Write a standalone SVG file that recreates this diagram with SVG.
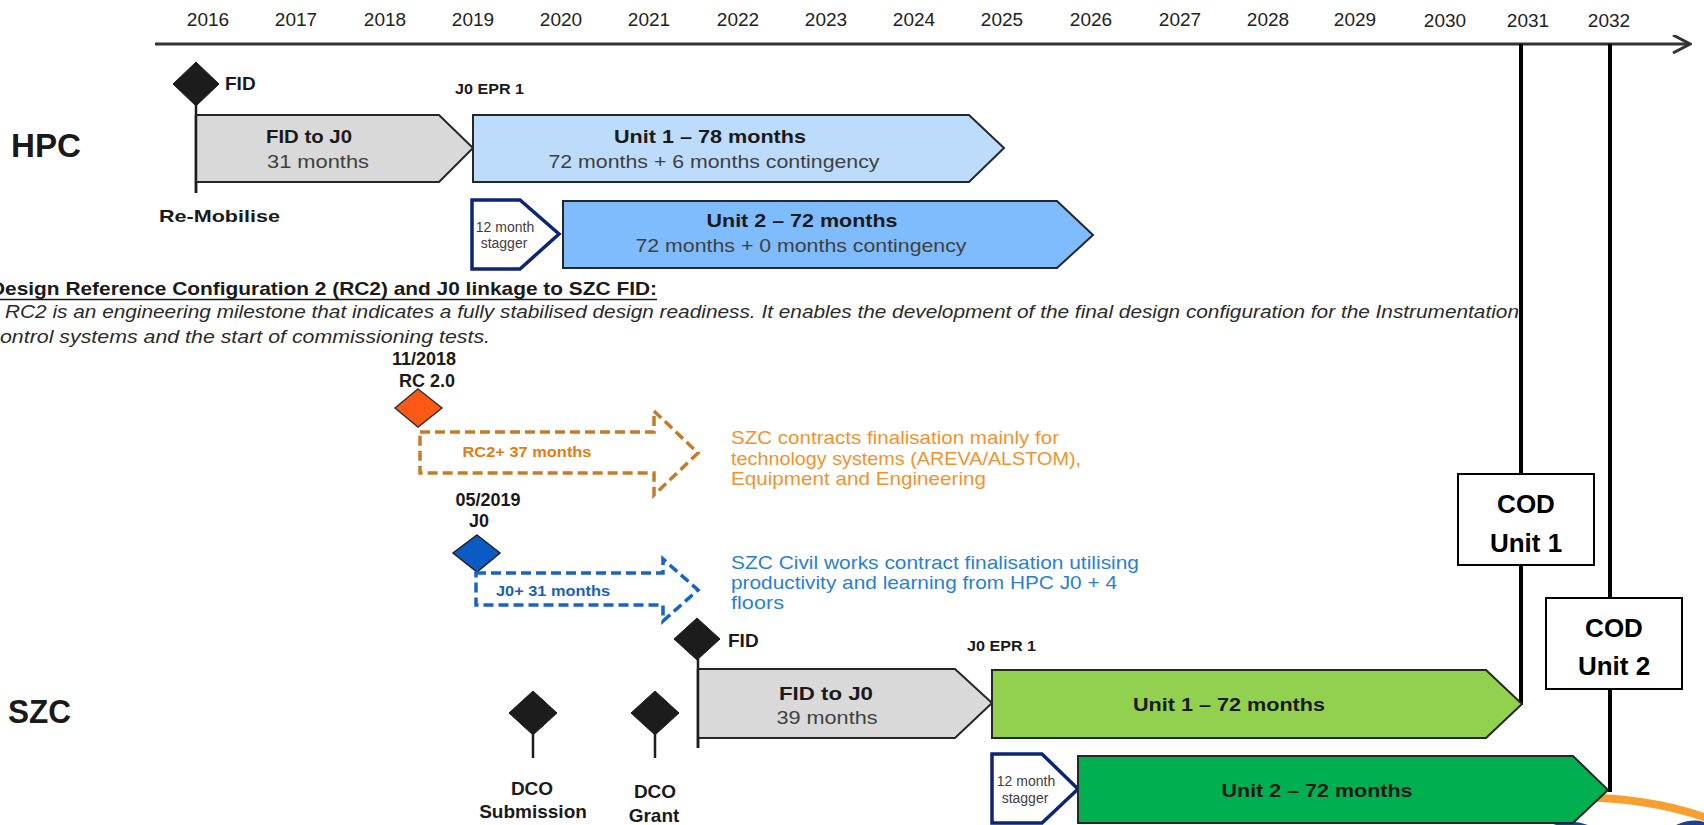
<svg xmlns="http://www.w3.org/2000/svg" width="1704" height="825" viewBox="0 0 1704 825">
<style>
text{font-family:"Liberation Sans",Arial,sans-serif;fill:#1a1a1a}
.yr{font-size:19px;text-anchor:middle;fill:#222}
.b{font-weight:bold}
.c{text-anchor:middle}
.sub{font-size:19px;fill:#404040}
.ttl{font-size:19px;font-weight:bold}
.box{stroke:#262626;stroke-width:2}
.dia{fill:#1c1c1c;stroke:#1c1c1c;stroke-width:1}
.stem{stroke:#1c1c1c;stroke-width:2.5}
.stg{fill:#fff;stroke:#0c2577;stroke-width:3.5;stroke-linejoin:miter}
.stgt{font-size:14px;fill:#404040;text-anchor:middle}
.cod{fill:#fff;stroke:#000;stroke-width:2}
.codt{font-size:26px;font-weight:bold;text-anchor:middle;fill:#000}
.vl{stroke:#000;stroke-width:4}
.lbl{font-size:19px;font-weight:bold}
</style>
<defs>
<marker id="axisHead" markerWidth="20" markerHeight="20" refX="18" refY="9" orient="auto" markerUnits="userSpaceOnUse">
<path d="M1,0 L18,9 L1,18" fill="none" stroke="#333" stroke-width="3"/>
</marker>
</defs>

<g id="decor">
<path d="M1560,797 Q1650,796 1712,820" fill="none" stroke="#f7a030" stroke-width="8"/>
<path d="M1553,825 Q1570,818 1588,825 Z" fill="#1f3f8f"/>
<path d="M1676,825 Q1692,818 1704,822 V825 Z" fill="#1f3f8f"/>
</g>

<g id="axis">
<line x1="155" y1="44" x2="1690" y2="44" stroke="#333" stroke-width="3" marker-end="url(#axisHead)"/>
<text class="yr" x="208" y="26">2016</text>
<text class="yr" x="296" y="26">2017</text>
<text class="yr" x="385" y="26">2018</text>
<text class="yr" x="473" y="26">2019</text>
<text class="yr" x="561" y="26">2020</text>
<text class="yr" x="649" y="26">2021</text>
<text class="yr" x="738" y="26">2022</text>
<text class="yr" x="826" y="26">2023</text>
<text class="yr" x="914" y="26">2024</text>
<text class="yr" x="1002" y="26">2025</text>
<text class="yr" x="1091" y="26">2026</text>
<text class="yr" x="1180" y="26">2027</text>
<text class="yr" x="1268" y="26">2028</text>
<text class="yr" x="1355" y="26">2029</text>
<text class="yr" x="1445" y="27">2030</text>
<text class="yr" x="1528" y="27">2031</text>
<text class="yr" x="1609" y="27">2032</text>
</g>

<g id="connectors">
<line class="vl" x1="1521" y1="44" x2="1521" y2="705"/>
<line class="vl" x1="1610" y1="44" x2="1610" y2="792"/>
<line class="stem" x1="196" y1="84" x2="196" y2="193"/>
<line class="stem" x1="698" y1="639" x2="698" y2="748"/>
<line class="stem" x1="533" y1="713" x2="533" y2="758"/>
<line class="stem" x1="655" y1="713" x2="655" y2="758"/>
</g>

<g id="hpc-label"><text class="b" x="11" y="157" font-size="34" textLength="70" lengthAdjust="spacingAndGlyphs">HPC</text></g>

<g id="hpc-fid">
<polygon class="dia" points="196,62 219,84 196,106 173,84"/>
<text class="lbl" x="225" y="90">FID</text>
</g>

<g id="hpc-j0"><text class="b" x="455" y="94" font-size="14" textLength="69" lengthAdjust="spacingAndGlyphs">J0 EPR 1</text></g>

<g id="hpc-remobilise"><text class="b" x="159" y="222" font-size="17" textLength="121" lengthAdjust="spacingAndGlyphs">Re-Mobilise</text></g>

<g id="hpc-fid-to-j0">
<polygon class="box" fill="#d9d9d9" points="196,115 439,115 473,148 439,182 196,182"/>
<line class="stem" x1="196" y1="115" x2="196" y2="193"/>
<text class="ttl c" x="309" y="143" textLength="86" lengthAdjust="spacingAndGlyphs">FID to J0</text>
<text class="sub c" x="318" y="168" textLength="102" lengthAdjust="spacingAndGlyphs">31 months</text>
</g>

<g id="hpc-unit1">
<polygon class="box" fill="#bddcfb" points="473,115 969,115 1004,148 969,182 473,182"/>
<text class="ttl c" x="710" y="143" textLength="192" lengthAdjust="spacingAndGlyphs">Unit 1 – 78 months</text>
<text class="sub c" x="714" y="168" textLength="331" lengthAdjust="spacingAndGlyphs">72 months + 6 months contingency</text>
</g>

<g id="hpc-stagger">
<polygon class="stg" points="472,200 520,200 559,234 520,269 472,269"/>
<text class="stgt" x="505" y="232">12 month</text>
<text class="stgt" x="504" y="248">stagger</text>
</g>

<g id="hpc-unit2">
<polygon class="box" fill="#7fbcfd" points="563,201 1057,201 1093,235 1057,268 563,268"/>
<text class="ttl c" x="802" y="227" textLength="191" lengthAdjust="spacingAndGlyphs">Unit 2 – 72 months</text>
<text class="sub c" x="801" y="252" textLength="331" lengthAdjust="spacingAndGlyphs">72 months + 0 months contingency</text>
</g>

<g id="rc2-note">
<text class="b" x="-10" y="295" font-size="19" textLength="667" lengthAdjust="spacingAndGlyphs">Design Reference Configuration 2 (RC2) and J0  linkage to SZC FID:</text>
<line x1="0" y1="299.5" x2="657" y2="299.5" stroke="#1a1a1a" stroke-width="1.5"/>
<text x="5" y="318" font-size="18" font-style="italic" fill="#2a2a2a" style="fill:#2a2a2a" textLength="1514" lengthAdjust="spacingAndGlyphs">RC2 is an engineering milestone that indicates a fully stabilised design readiness. It enables the development of the final design configuration for the Instrumentation</text>
<text x="0" y="343" font-size="18" font-style="italic" style="fill:#2a2a2a" textLength="490" lengthAdjust="spacingAndGlyphs">ontrol systems and the start of commissioning tests.</text>
</g>

<g id="rc2-milestone">
<text class="b c" x="424" y="365" font-size="18">11/2018</text>
<text class="b c" x="427" y="387" font-size="18">RC 2.0</text>
<polygon points="418,389 442,408 418,427 395,408" fill="#fe5815" stroke="#333" stroke-width="1.5"/>
</g>

<g id="rc2-arrow">
<path d="M420,432 H654 V411 L698,453 L654,495 V473 H420 Z" fill="none" stroke="#c57b27" stroke-width="3.5" stroke-dasharray="10 5"/>
<text class="b c" x="527" y="457" font-size="15" style="fill:#e47b14" textLength="129" lengthAdjust="spacingAndGlyphs">RC2+ 37 months</text>
</g>

<g id="rc2-text" style="font-size:19px">
<text x="731" y="444" style="fill:#f0932f" textLength="328" lengthAdjust="spacingAndGlyphs">SZC contracts finalisation mainly for</text>
<text x="731" y="465" style="fill:#f0932f" textLength="350" lengthAdjust="spacingAndGlyphs">technology systems (AREVA/ALSTOM),</text>
<text x="731" y="485" style="fill:#f0932f" textLength="255" lengthAdjust="spacingAndGlyphs">Equipment and Engineering</text>
</g>

<g id="j0-milestone">
<text class="b c" x="488" y="506" font-size="18">05/2019</text>
<text class="b c" x="479" y="527" font-size="18">J0</text>
<polygon points="477,535 500,553 477,572 453,553" fill="#0a5bc4" stroke="#222" stroke-width="1.5"/>
</g>

<g id="j0-arrow">
<path d="M476,573 H663 V559 L698,590 L663,621 V605 H476 Z" fill="none" stroke="#1565c8" stroke-width="3.5" stroke-dasharray="10 5"/>
<text class="b c" x="553" y="596" font-size="15" style="fill:#1a5fbf" textLength="114" lengthAdjust="spacingAndGlyphs">J0+ 31 months</text>
</g>

<g id="j0-text" style="font-size:19px">
<text x="731" y="569" style="fill:#2a80d4" textLength="408" lengthAdjust="spacingAndGlyphs">SZC Civil works contract finalisation utilising</text>
<text x="731" y="589" style="fill:#2a80d4" textLength="386" lengthAdjust="spacingAndGlyphs">productivity and learning from HPC J0 + 4</text>
<text x="731" y="609" style="fill:#2a80d4" textLength="53" lengthAdjust="spacingAndGlyphs">floors</text>
</g>

<g id="szc-label"><text class="b" x="8" y="723" font-size="34" textLength="63" lengthAdjust="spacingAndGlyphs">SZC</text></g>

<g id="szc-fid">
<polygon class="dia" points="697,618 720,639 697,660 674,639"/>
<text class="lbl" x="728" y="647">FID</text>
</g>

<g id="szc-j0"><text class="b" x="967" y="651" font-size="14" textLength="69" lengthAdjust="spacingAndGlyphs">J0 EPR 1</text></g>

<g id="szc-fid-to-j0">
<polygon class="box" fill="#d9d9d9" points="698,669 955,669 992,703 955,738 698,738"/>
<line class="stem" x1="698" y1="669" x2="698" y2="748"/>
<text class="ttl c" x="826" y="700" textLength="94" lengthAdjust="spacingAndGlyphs">FID to J0</text>
<text class="sub c" x="827" y="724" textLength="101" lengthAdjust="spacingAndGlyphs">39 months</text>
</g>

<g id="szc-unit1">
<polygon class="box" fill="#92d050" points="992,670 1486,670 1522,704 1486,738 992,738"/>
<text class="ttl c" x="1229" y="711" textLength="192" lengthAdjust="spacingAndGlyphs">Unit 1 – 72 months</text>
</g>

<g id="szc-stagger">
<polygon class="stg" points="992,754 1042,754 1078,789 1042,823 992,823"/>
<text class="stgt" x="1026" y="786">12 month</text>
<text class="stgt" x="1025" y="803">stagger</text>
</g>

<g id="szc-unit2">
<polygon class="box" fill="#00b050" points="1078,756 1573,756 1608,790 1573,823 1078,823"/>
<text class="ttl c" x="1317" y="797" textLength="191" lengthAdjust="spacingAndGlyphs">Unit 2 – 72 months</text>
</g>

<g id="dco-submission">
<polygon class="dia" points="533,691 557,713 533,735 509,713"/>
<text class="lbl c" x="532" y="795">DCO</text>
<text class="lbl c" x="533" y="818">Submission</text>
</g>

<g id="dco-grant">
<polygon class="dia" points="655,691 679,713 655,735 631,713"/>
<text class="lbl c" x="655" y="798">DCO</text>
<text class="lbl c" x="654" y="822">Grant</text>
</g>

<g id="cod-unit1">
<rect class="cod" x="1458" y="474" width="136" height="91"/>
<text class="codt" x="1526" y="513">COD</text>
<text class="codt" x="1526" y="552">Unit 1</text>
</g>

<g id="cod-unit2">
<rect class="cod" x="1546" y="598" width="136" height="91"/>
<text class="codt" x="1614" y="637">COD</text>
<text class="codt" x="1614" y="675">Unit 2</text>
</g>
</svg>
